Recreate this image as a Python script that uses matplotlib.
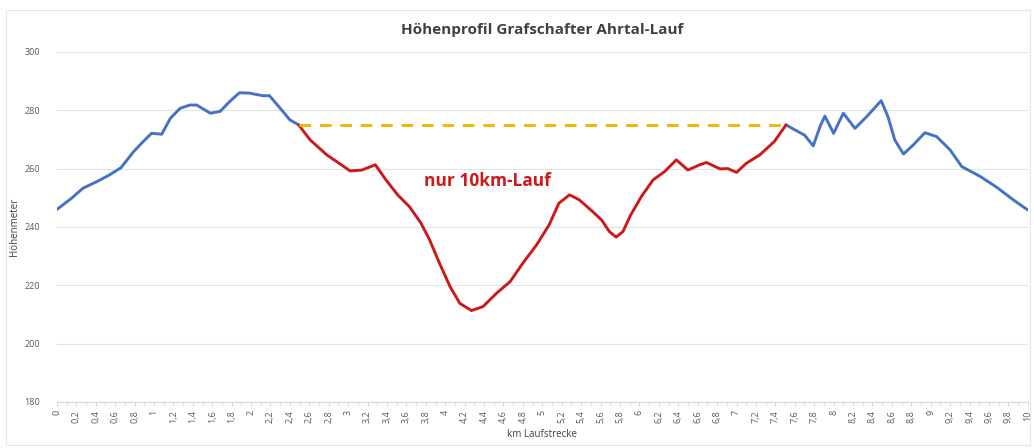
import numpy as np
import matplotlib
matplotlib.use("Agg")
import matplotlib.pyplot as plt
from matplotlib.ticker import MultipleLocator, FuncFormatter
from matplotlib.patches import Rectangle

plt.rcParams['font.family'] = ['Open Sans', 'DejaVu Sans']

# Höhenprofil (km, Höhenmeter)
km = [0.0, 0.15, 0.27, 0.41, 0.54, 0.66, 0.79, 0.89, 0.975, 1.08, 1.17, 1.27,
      1.37, 1.44, 1.58, 1.68, 1.78, 1.88, 1.98, 2.12, 2.19, 2.30, 2.40, 2.49,
      2.61, 2.78, 2.93, 3.02, 3.14, 3.28, 3.39, 3.51, 3.63, 3.75, 3.84, 3.94,
      4.05, 4.15, 4.27, 4.39, 4.53, 4.67, 4.80, 4.94, 5.07, 5.17, 5.28, 5.38,
      5.50, 5.61, 5.69, 5.76, 5.83, 5.91, 6.02, 6.14, 6.26, 6.38, 6.50, 6.62,
      6.69, 6.83, 6.91, 7.00, 7.10, 7.24, 7.39, 7.51,
      7.60, 7.70, 7.79, 7.86, 7.91, 8.00, 8.10, 8.22, 8.34, 8.49, 8.56, 8.63,
      8.72, 8.82, 8.94, 9.06, 9.20, 9.32, 9.51, 9.68, 9.85, 10.0]
hoehe = [246.0, 249.8, 253.3, 255.5, 257.8, 260.3, 265.8, 269.3, 272.1, 271.8,
         277.3, 280.7, 281.8, 281.8, 279.0, 279.6, 283.0, 286.0, 285.9, 285.0,
         285.0, 280.7, 276.7, 275.0,
         269.8, 264.7, 261.3, 259.2, 259.5, 261.3, 256.1, 251.0, 247.0, 241.3,
         235.5, 227.6, 219.5, 213.8, 211.3, 212.7, 217.3, 221.3, 227.6, 233.8,
         240.7, 248.1, 251.0, 249.3, 245.8, 242.4, 238.4, 236.5, 238.4, 244.1,
         250.4, 256.1, 259.0, 263.0, 259.5, 261.3, 262.1, 259.9, 260.0, 258.7,
         261.8, 264.7, 269.3, 275.0,
         273.3, 271.5, 267.8, 274.4, 278.0, 272.1, 279.0, 273.8, 277.8, 283.3,
         277.8, 269.8, 265.0, 268.1, 272.3, 271.0, 266.4, 260.7, 257.3, 253.6,
         249.3, 245.8]

start_10k = 2.49
ende_10k = 7.51
niveau = 275

km = np.array(km)
hoehe = np.array(hoehe)
rot = (km >= start_10k) & (km <= ende_10k)
blau1 = km <= start_10k
blau2 = km >= ende_10k

fig = plt.figure(figsize=(10.34, 4.48), dpi=100)
ax = fig.add_axes([0.055, 0.103, 0.939, 0.781])

blau = '#4472C4'
rotfarbe = '#CC1A1A'
kw = dict(lw=2.1, solid_capstyle='round', solid_joinstyle='round')
ax.plot(km[blau1], hoehe[blau1], color=blau, **kw)
ax.plot(km[blau2], hoehe[blau2], color=blau, **kw)
ax.plot(km[rot], hoehe[rot], color=rotfarbe, **kw)
ax.plot([start_10k, ende_10k], [niveau, niveau], color='#F2B705', lw=2.1,
        dashes=(4, 3))

ax.text(4.43, 255.6, 'nur 10km-Lauf', color=rotfarbe, fontsize=12.5,
        fontweight='bold', ha='center', va='center')

ax.set_xlim(0, 10)
ax.set_ylim(180, 300)
ax.xaxis.set_major_locator(MultipleLocator(0.2))
ax.xaxis.set_minor_locator(MultipleLocator(0.1))
ax.yaxis.set_major_locator(MultipleLocator(20))
ax.xaxis.set_major_formatter(FuncFormatter(
    lambda v, p: ('%g' % round(v, 1)).replace('.', ',')))
ax.tick_params(axis='x', which='both', rotation=90, labelsize=6.5,
               colors='#D9D9D9', labelcolor='#595959', direction='out',
               length=3, pad=3)
ax.tick_params(axis='y', length=0, labelsize=6.5, labelcolor='#595959', pad=12)
ax.grid(axis='y', color='#E3E3E3', lw=0.8)
ax.set_axisbelow(True)
for s in ['top', 'right', 'left']:
    ax.spines[s].set_visible(False)
ax.spines['bottom'].set_color('#D9D9D9')

ax.set_title('Höhenprofil Grafschafter Ahrtal-Lauf', fontsize=11,
             fontweight='bold', color='#404040', pad=13)
ax.set_ylabel('Höhenmeter', fontsize=7, color='#404040', labelpad=3)
ax.set_xlabel('km Laufstrecke', fontsize=7, color='#404040', labelpad=4)
ax.yaxis.set_label_coords(-0.038, 0.5)

fig.patches.append(Rectangle((0.006, 0.006), 0.99, 0.972, transform=fig.transFigure,
                             fill=False, edgecolor='#E6E6E6', lw=0.8))

fig.savefig('out.png', dpi=100, facecolor='white')
